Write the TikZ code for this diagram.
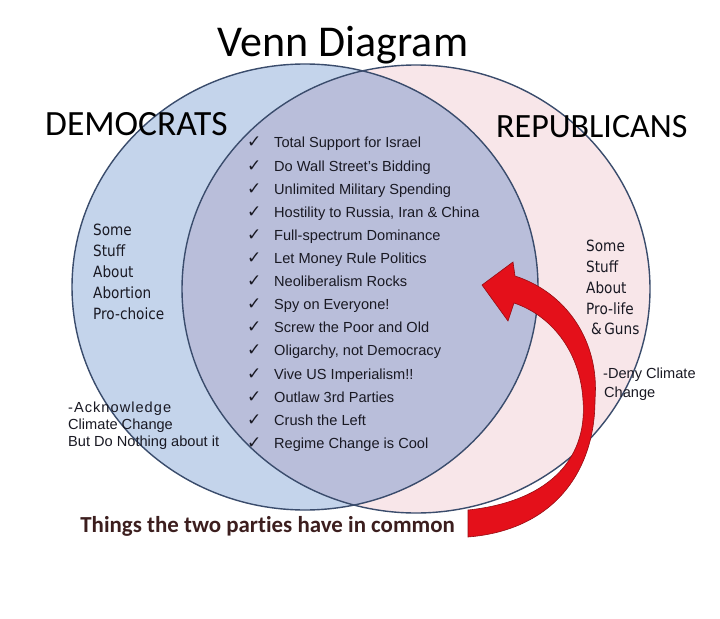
\documentclass[tikz,border=0pt]{standalone}
\usepackage{fontspec}
\setmainfont{Liberation Sans}
\newfontfamily\calib[Ligatures=NoCommon]{Carlito}
\newfontfamily\tahomalike[FakeStretch=0.88]{DejaVu Sans}
\newfontfamily\checkfont{DejaVu Sans}
\newfontfamily\spacedfont[LetterSpace=7]{Liberation Sans}
\definecolor{leftblue}{RGB}{196,212,235}
\definecolor{rightpink}{RGB}{248,230,233}
\definecolor{midlav}{RGB}{185,190,218}
\definecolor{rim}{RGB}{58,76,108}
\definecolor{txt}{RGB}{25,25,35}
\definecolor{arrowred}{RGB}{228,16,26}
\definecolor{arrowdark}{RGB}{150,12,18}
\definecolor{maroon}{RGB}{60,30,30}
\tikzset{
  item/.style={anchor=base west, inner sep=0pt, text=txt, font=\fontsize{14.6bp}{17bp}\selectfont},
  tick/.style={anchor=base west, inner sep=0pt, text=txt, font=\checkfont\fontsize{17bp}{17bp}\selectfont},
  side/.style={anchor=base west, inner sep=0pt, text=txt, font=\tahomalike\fontsize{15.5bp}{18bp}\selectfont},
  note/.style={anchor=base west, inner sep=0pt, text=txt, font=\fontsize{14.6bp}{17bp}\selectfont},
  rimline/.style={draw=rim, line width=1.4bp}
}
\begin{document}
\begin{tikzpicture}[x=1bp,y=-1bp]
\useasboundingbox (0,0) rectangle (720,619);
\fill[white] (0,0) rectangle (720,619);
% circles
\fill[leftblue] (305,287) ellipse [x radius=233, y radius=223];
\fill[rightpink] (416,289) ellipse [x radius=234, y radius=224];
\begin{scope}
  \clip (305,287) ellipse [x radius=233, y radius=223];
  \fill[midlav] (416,289) ellipse [x radius=234, y radius=224];
\end{scope}
\path[rimline] (305,287) ellipse [x radius=233, y radius=223];
\path[rimline] (416,289) ellipse [x radius=234, y radius=224];
% red arrow
\filldraw[fill=arrowred, draw=arrowdark, line width=0.6bp]
  (515,276) .. controls (565,292) and (600,340) .. (595,400)
  .. controls (595,470) and (555,530) .. (468,537)
  -- (468,510)
  .. controls (545,502) and (588,462) .. (583,400)
  .. controls (580,350) and (550,315) .. (514,303)
  -- (508,321) -- (482,285) -- (513,262) -- cycle;
% headings
\node[anchor=base, inner sep=0pt, font=\calib\fontsize{44bp}{44bp}\selectfont] (title) at (343,57) {Venn Diagram};
\node[anchor=base west, inner sep=0pt, font=\calib\fontsize{35.5bp}{36bp}\selectfont] (dem) at (45,136) {DEMOCRATS};
\node[anchor=base west, inner sep=0pt, font=\calib\fontsize{34bp}{34bp}\selectfont] (rep) at (496,138) {REPUBLICANS};
% common list
\foreach \t [count=\i] in {Total Support for Israel, Do Wall Street’s Bidding, Unlimited Military Spending, {Hostility to Russia, Iran \& China}, Full-spectrum Dominance, Let Money Rule Politics, Neoliberalism Rocks, Spy on Everyone!, Screw the Poor and Old, {Oligarchy, not Democracy}, Vive US Imperialism!!, Outlaw 3rd Parties, Crush the Left, Regime Change is Cool} {
  \node[tick] (c\i) at (247,{148+23.1*(\i-1)}) {✓};
  \node[item] (l\i) at (274,{148+23.1*(\i-1)}) {\t};
}
% left side
\node[side] (ls1) at (93,235.5) {Some};
\node[side] (ls2) at (93,256.5) {Stuff};
\node[side] (ls3) at (93,277.5) {About};
\node[side] (ls4) at (93,298.5) {Abortion};
\node[side] (ls5) at (93,319.5) {Pro-choice};
% right side
\node[side] (rs1) at (586,251) {Some};
\node[side] (rs2) at (586,272) {Stuff};
\node[side] (rs3) at (586,293) {About};
\node[side] (rs4) at (586,314) {Pro-life};
\node[side] (rs5) at (591,334.5) {\&\,Guns};
% climate notes
\node[anchor=base west, inner sep=0pt, text=txt, font=\spacedfont\fontsize{14.6bp}{17bp}\selectfont] (ln1) at (68,412.5) {-Acknowledge};
\node[note] (ln2) at (68,429.5) {Climate Change};
\node[note] (ln3) at (68,446.5) {But Do Nothing about it};
\node[note] (rn1) at (603,378.5) {-Deny Climate};
\node[note] (rn2) at (604,397.5) {Change};
% bottom caption
\node[anchor=base east, inner sep=0pt, text=maroon, font=\calib\bfseries\fontsize{22.9bp}{24bp}\selectfont] (cap) at (455,532) {Things the two parties have in common};
\end{tikzpicture}
\end{document}
